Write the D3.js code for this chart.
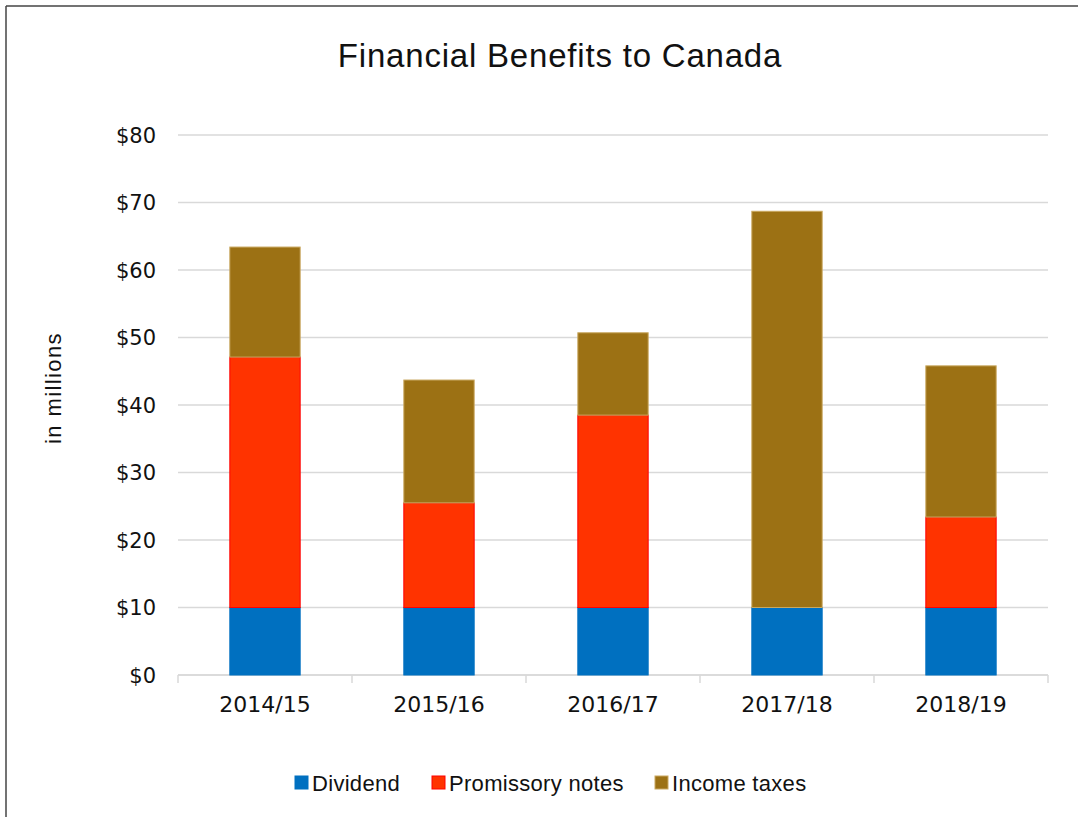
<!DOCTYPE html>
<html>
<head>
<meta charset="utf-8">
<script src="https://cdn.jsdelivr.net/npm/d3@7"></script>
<style>
  body { margin: 0; background: #fff; }
  svg { display: block; }
</style>
</head>
<body>
<div id="chart"></div>
<script>
const years = ["2014/15", "2015/16", "2016/17", "2017/18", "2018/19"];
const dividend = [10, 10, 10, 10, 10];
const promissory = [37.1, 15.5, 28.5, 0, 13.4];
const incomeTaxes = [16.3, 18.2, 12.2, 58.7, 22.4];
const yTicks = [0, 10, 20, 30, 40, 50, 60, 70, 80];

const seriesKeys = ["Dividend", "Promissory notes", "Income taxes"];
const fills = ["#0070C0", "#FF3300", "#9C7114"];
const strokes = ["#0070C0", "#FF0000", "#C9A860"];

const W = 1078, H = 817;
const margin = { top: 135, right: 30, bottom: 142, left: 178 };
const width = W - margin.left - margin.right;
const height = H - margin.top - margin.bottom;

const sans = "'Liberation Sans', Arial, sans-serif";
const numFont = "'DejaVu Sans', sans-serif";

const rows = years.map((yr, i) => ({
    year: yr,
    "Dividend": dividend[i],
    "Promissory notes": promissory[i],
    "Income taxes": incomeTaxes[i],
}));

const svgRoot = d3.select("#chart")
    .append("svg")
    .attr("width", W)
    .attr("height", H);

// outer frame (only top and left visible)
svgRoot.append("line")
    .attr("x1", 6).attr("y1", 6).attr("x2", W).attr("y2", 6)
    .attr("stroke", "#444").attr("stroke-width", 1.5);
svgRoot.append("line")
    .attr("x1", 6).attr("y1", 6).attr("x2", 6).attr("y2", H)
    .attr("stroke", "#444").attr("stroke-width", 1.5);

const svg = svgRoot.append("g")
    .attr("transform", `translate(${margin.left},${margin.top})`);

// title
svgRoot.append("text")
    .attr("x", 560)
    .attr("y", 67)
    .attr("text-anchor", "middle")
    .style("font-family", sans)
    .style("font-size", "33px")
    .style("letter-spacing", "0.8px")
    .style("fill", "#111")
    .text("Financial Benefits to Canada");

const x = d3.scaleBand()
    .domain(years)
    .range([0, width])
    .paddingInner(0.59)
    .paddingOuter(0.295);

const y = d3.scaleLinear()
    .domain([0, 80])
    .range([height, 0]);

// gridlines
svg.append("g")
    .selectAll("line")
    .data(yTicks)
    .enter()
    .append("line")
    .attr("x1", 0)
    .attr("x2", width)
    .attr("y1", d => y(d))
    .attr("y2", d => y(d))
    .attr("stroke", "#d9d9d9")
    .attr("stroke-width", 1.5);

// y tick labels
svg.append("g")
    .selectAll("text")
    .data(yTicks)
    .enter()
    .append("text")
    .attr("x", -22)
    .attr("y", d => y(d))
    .attr("dy", "0.36em")
    .attr("text-anchor", "end")
    .style("font-family", numFont)
    .style("font-size", "21px")
    .style("fill", "#111")
    .text(d => "$" + d);

// x axis line + category ticks
svg.append("line")
    .attr("x1", 0).attr("x2", width)
    .attr("y1", height).attr("y2", height)
    .attr("stroke", "#d9d9d9").attr("stroke-width", 1.5);
const bounds = d3.range(years.length + 1).map(i => i * width / years.length);
svg.append("g")
    .selectAll("line")
    .data(bounds)
    .enter()
    .append("line")
    .attr("x1", d => d).attr("x2", d => d)
    .attr("y1", height).attr("y2", height + 8)
    .attr("stroke", "#d9d9d9").attr("stroke-width", 1.5);

svg.append("g")
    .selectAll("text")
    .data(years)
    .enter()
    .append("text")
    .attr("x", d => x(d) + x.bandwidth() / 2)
    .attr("y", height + 37)
    .attr("text-anchor", "middle")
    .style("font-family", numFont)
    .style("font-size", "22px")
    .style("fill", "#111")
    .text(d => d);

// y axis title
svgRoot.append("text")
    .attr("transform", "rotate(-90)")
    .attr("x", -388)
    .attr("y", 61)
    .attr("text-anchor", "middle")
    .style("font-family", sans)
    .style("font-size", "22px")
    .style("letter-spacing", "1.4px")
    .style("fill", "#111")
    .text("in millions");

// stacked bars
const stacked = d3.stack().keys(seriesKeys)(rows);
stacked.forEach((layer, li) => {
    svg.append("g")
        .selectAll("rect")
        .data(layer.filter(d => d[1] - d[0] > 0))
        .enter()
        .append("rect")
        .attr("x", d => x(d.data.year) + 0.5)
        .attr("y", d => y(d[1]))
        .attr("width", x.bandwidth() - 1)
        .attr("height", d => y(d[0]) - y(d[1]))
        .attr("fill", fills[li])
        .attr("stroke", strokes[li])
        .attr("stroke-width", 1);
});

// legend
const legendItems = [
    { label: "Dividend", x: 295 },
    { label: "Promissory notes", x: 432 },
    { label: "Income taxes", x: 655 },
];
const legend = svgRoot.append("g");
legendItems.forEach((it, i) => {
    legend.append("rect")
        .attr("x", it.x)
        .attr("y", 776)
        .attr("width", 13)
        .attr("height", 13)
        .attr("fill", fills[i])
        .attr("stroke", strokes[i])
        .attr("stroke-width", 1);
    legend.append("text")
        .attr("x", it.x + 17)
        .attr("y", 783)
        .attr("dy", "0.36em")
        .style("font-family", sans)
        .style("font-size", "22px")
        .style("letter-spacing", "0.3px")
        .style("fill", "#111")
        .text(it.label);
});
</script>
</body>
</html>
